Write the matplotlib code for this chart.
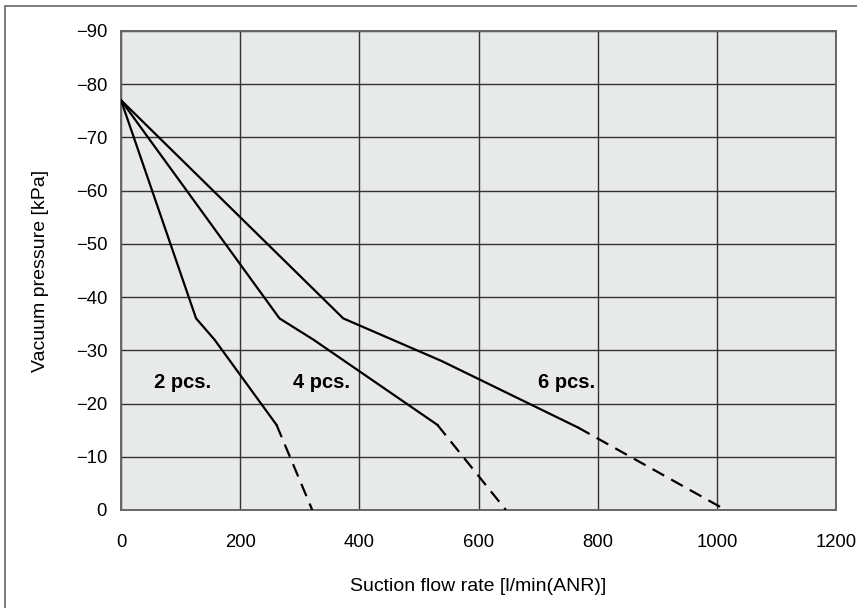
import matplotlib
matplotlib.use("Agg")
import matplotlib.pyplot as plt
from matplotlib.patches import Rectangle

plt.rcParams['font.family'] = ['Liberation Sans', 'DejaVu Sans']

# solid part of each curve (flow l/min, pressure kPa)
flow_2 = [0, 126, 157, 261]
pres_2 = [-77, -36, -32, -16]
flow_4 = [0, 266, 323, 531]
pres_4 = [-77, -36, -32, -16]
flow_6 = [0, 373, 538, 767]
pres_6 = [-77, -36, -28, -15.5]

# dashed extension down to 0 kPa
dash_2 = ([261, 321], [-16, 0])
dash_4 = ([531, 646], [-16, 0])
dash_6 = ([767, 1015], [-15.5, 0])

labels = ['2 pcs.', '4 pcs.', '6 pcs.']
label_x = [104, 337, 747]
label_y = -24

x_ticks = [0, 200, 400, 600, 800, 1000, 1200]
y_ticks = [0, -10, -20, -30, -40, -50, -60, -70, -80, -90]

fig = plt.figure(figsize=(8.57, 6.08), dpi=100)
ax = fig.add_axes([121/857, 1 - 510/608, (836-121)/857, (510-31)/608])
ax.set_facecolor('#e8e9e9')

for fx, py in [(flow_2, pres_2), (flow_4, pres_4), (flow_6, pres_6)]:
    ax.plot(fx, py, color='black', lw=1.6, solid_joinstyle='miter', zorder=3)
for fx, py in [dash_2, dash_4, dash_6]:
    ax.plot(fx, py, color='black', lw=1.6, dashes=(6, 3.6), zorder=3)

for t, lx in zip(labels, label_x):
    ax.text(lx, label_y, t, fontsize=14.5, fontweight='bold', ha='center', va='center', zorder=4)

ax.set_xlim(0, 1200)
ax.set_ylim(0, -90)
ax.set_xticks(x_ticks)
ax.set_yticks(y_ticks)
ax.tick_params(length=0, labelsize=13.3)
ax.tick_params(axis='x', pad=17)
ax.tick_params(axis='y', pad=10)

ax.grid(True, color='#333333', lw=1.0)
ax.set_axisbelow(True)
for s in ax.spines.values():
    s.set_color('#666666')
    s.set_linewidth(1.4)

ax.set_xlabel('Suction flow rate [l/min(ANR)]', fontsize=14, labelpad=20)
ax.set_ylabel('Vacuum pressure [kPa]', fontsize=14, labelpad=19)

# outer frame, only the left and top edges show in the crop
fig.add_artist(Rectangle((4.5/857, -0.1), 1.2, 1.1 - 6/608, transform=fig.transFigure,
                         fill=False, edgecolor='#666666', lw=1.2))

fig.savefig('out.png', dpi=100)
